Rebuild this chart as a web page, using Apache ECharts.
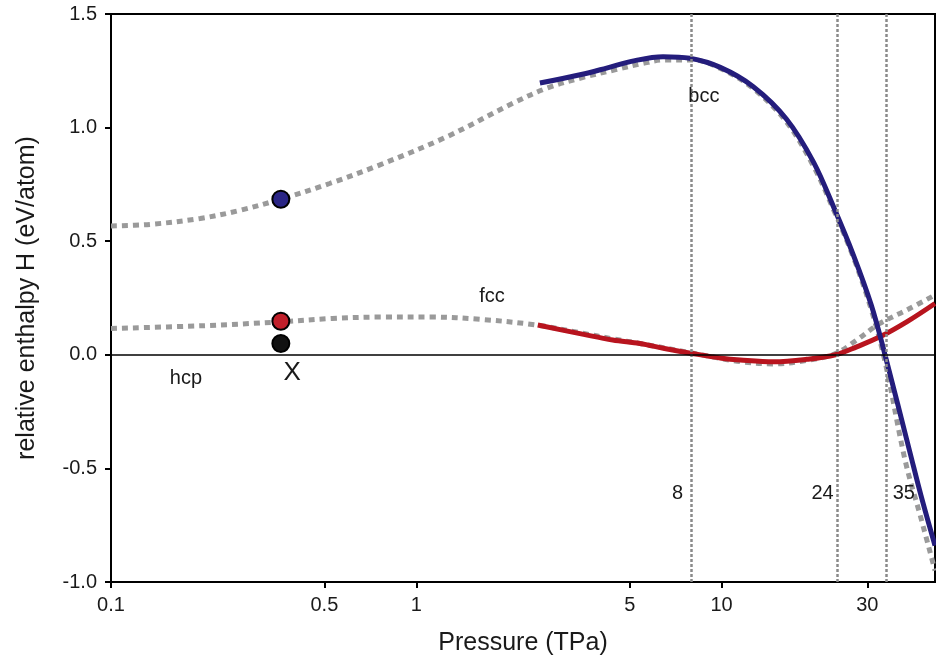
<!DOCTYPE html>
<html>
<head>
<meta charset="utf-8">
<script src="https://cdn.jsdelivr.net/npm/echarts@6/dist/echarts.min.js"></script>
<style>
html,body{margin:0;padding:0;background:#fff;}
#main{width:936px;height:664px;}
</style>
</head>
<body>
<div id="main"></div>
<script>
//灰色虚线 (上) bcc 计算曲线
var p_grey_up = [0.1, 0.134, 0.196, 0.265, 0.36, 0.52, 0.76, 1.26, 2.07, 2.68, 3.5, 4.5, 5.5, 6.5, 8, 10, 12.7, 16.3, 20, 23.5, 27, 30.9, 34.3, 40, 45, 50];
var h_grey_up = [0.567, 0.574, 0.600, 0.636, 0.685, 0.754, 0.836, 0.960, 1.107, 1.174, 1.220, 1.255, 1.282, 1.298, 1.298, 1.258, 1.172, 1.025, 0.830, 0.625, 0.430, 0.200, -0.030, -0.470, -0.720, -0.950];
//灰色虚线 (下) fcc
var p_grey_low = [0.1, 0.2, 0.36, 0.53, 0.76, 1.13, 1.62, 2.48, 3.5, 4.4, 5.4, 8, 11.5, 14.8, 19, 23.6, 27.7, 33, 40.4, 50];
var h_grey_low = [0.116, 0.128, 0.145, 0.160, 0.166, 0.166, 0.156, 0.131, 0.095, 0.070, 0.050, 0.008, -0.030, -0.040, -0.025, 0.005, 0.065, 0.138, 0.197, 0.263];
//bcc 实线
var p_bcc = [2.54, 3.5, 4.2, 5.2, 6.43, 7.87, 9.9, 12.7, 16.3, 20, 23.5, 27, 30.9, 34.3, 41.4, 45, 50];
var h_bcc = [1.196, 1.235, 1.262, 1.295, 1.312, 1.305, 1.265, 1.180, 1.038, 0.848, 0.637, 0.440, 0.220, 0, -0.430, -0.620, -0.840];
//fcc 实线
var p_fcc = [2.5, 3.5, 4.4, 5.4, 6.5, 8, 10, 11.5, 14.8, 19, 23.6, 27.7, 33, 40.4, 50];
var h_fcc = [0.131, 0.091, 0.065, 0.050, 0.028, 0.006, -0.015, -0.023, -0.031, -0.020, 0, 0.035, 0.079, 0.145, 0.226];
//X 点 (bcc, fcc, hcp)
var p_dot = 0.36;
var h_dots = [0.685, 0.148, 0.05];
var dot_colors = ['#2a2585', '#c01f2a', '#111111'];
//相变压力
var trans_p = [8, 24, 35];
var trans_label_h = -0.61;
//x轴刻度
var x_ticks = [0.1, 0.5, 1, 5, 10, 30];
var x_min = 0.1, x_max = 50;
//文字标注
var note_names = ['bcc', 'fcc', 'hcp', 'X'];
var note_p = [8.75, 1.77, 0.176, 0.392];
var note_h = [1.135, 0.258, -0.103, -0.08];

var font = '"Liberation Sans", Arial, sans-serif';

function lg(v){
	return Math.log10(v);
}

function pair(p_arr, h_arr){
	var arr = [];
	for(var i = 0; i < p_arr.length; i++){
		arr.push([lg(p_arr[i]), h_arr[i]]);
	}
	return arr;
}

var dot_data = [];
for(var i = 0; i < h_dots.length; i++){
	dot_data.push({value: [lg(p_dot), h_dots[i]], itemStyle: {color: dot_colors[i]}});
}

var note_data = [];
for(var i = 0; i < note_names.length; i++){
	note_data.push({
		value: [lg(note_p[i]), note_h[i], note_names[i]],
		label: {fontSize: note_names[i] == 'X' ? 26 : 20}
	});
}

var trans_lines = [];
var trans_texts = [];
var trans_dist = [9, 4, 5];
for(var i = 0; i < trans_p.length; i++){
	trans_lines.push({xAxis: lg(trans_p[i])});
	//35 的标注在线右侧
	trans_texts.push({
		value: [lg(trans_p[i]), trans_label_h, String(trans_p[i])],
		label: {position: i == 2 ? 'right' : 'left', distance: trans_dist[i]}
	});
}

var myChart = echarts.init(document.getElementById('main'));

var option = {
	animation: false,
	grid: {
		left: 111, right: 1, top: 14, bottom: 82,
		show: true, borderColor: '#000', borderWidth: 2
	},
	xAxis: {
		type: 'value',
		min: lg(x_min),
		max: lg(x_max),
		name: 'Pressure (TPa)',
		nameLocation: 'middle',
		nameGap: 49,
		nameTextStyle: {fontSize: 25, color: '#1a1a1a', fontFamily: font},
		axisLine: {show: true, onZero: false, lineStyle: {color: '#000', width: 2}},
		axisTick: {show: true, inside: false, length: 6, lineStyle: {color: '#000', width: 2},
			customValues: x_ticks.map(lg)},
		axisLabel: {
			margin: 13, fontSize: 20, color: '#1a1a1a', fontFamily: font,
			customValues: x_ticks.map(lg),
			formatter: function(v){
				return String(+Math.pow(10, v).toPrecision(3));
			}
		},
		splitLine: {show: false}
	},
	yAxis: {
		type: 'value',
		min: -1, max: 1.5, interval: 0.5,
		name: 'relative enthalpy H (eV/atom)',
		nameLocation: 'middle',
		nameGap: 71,
		nameTextStyle: {fontSize: 25, color: '#1a1a1a', fontFamily: font},
		axisLine: {show: true, onZero: false, lineStyle: {color: '#000', width: 2}},
		axisTick: {show: true, inside: false, length: 6, lineStyle: {color: '#000', width: 2}},
		axisLabel: {
			margin: 14, fontSize: 20, color: '#1a1a1a', fontFamily: font,
			formatter: function(v){ return v.toFixed(1); }
		},
		splitLine: {show: false}
	},
	series: [
		{
			type: 'line',
			data: pair(p_grey_up, h_grey_up),
			smooth: 0.35,
			showSymbol: false,
			z: 2,
			lineStyle: {color: '#9a9a9a', width: 5, type: [6, 5], cap: 'butt'},
			markLine: {
				silent: true,
				symbol: 'none',
				label: {show: false},
				lineStyle: {color: '#8a8a8a', width: 2.5, type: [3, 2]},
				data: trans_lines
			}
		},
		{
			type: 'line',
			data: pair(p_grey_low, h_grey_low),
			smooth: 0.35,
			showSymbol: false,
			z: 2,
			lineStyle: {color: '#9a9a9a', width: 5, type: [6, 5], cap: 'butt'},
			markLine: {
				silent: true,
				symbol: 'none',
				label: {show: false},
				lineStyle: {color: '#000', width: 1.5, type: 'solid'},
				data: [{yAxis: 0}]
			}
		},
		{
			type: 'line',
			data: pair(p_fcc, h_fcc),
			smooth: 0.35,
			showSymbol: false,
			z: 3,
			lineStyle: {color: '#b8141e', width: 5}
		},
		{
			type: 'line',
			data: pair(p_bcc, h_bcc),
			smooth: 0.35,
			showSymbol: false,
			z: 4,
			lineStyle: {color: '#241d7c', width: 5}
		},
		{
			type: 'scatter',
			data: dot_data,
			symbolSize: 17,
			z: 5,
			itemStyle: {borderColor: '#000', borderWidth: 2, opacity: 1}
		},
		{
			type: 'scatter',
			data: note_data,
			symbolSize: 0,
			z: 6,
			itemStyle: {opacity: 1},
			label: {
				show: true, position: 'inside', color: '#1a1a1a', fontFamily: font,
				formatter: function(p){ return p.value[2]; }
			}
		},
		{
			type: 'scatter',
			data: trans_texts,
			symbolSize: 0,
			z: 6,
			itemStyle: {opacity: 1},
			label: {
				show: true, color: '#1a1a1a', fontSize: 20, fontFamily: font,
				formatter: function(p){ return p.value[2]; }
			}
		}
	]
};

myChart.setOption(option);
</script>
</body>
</html>
